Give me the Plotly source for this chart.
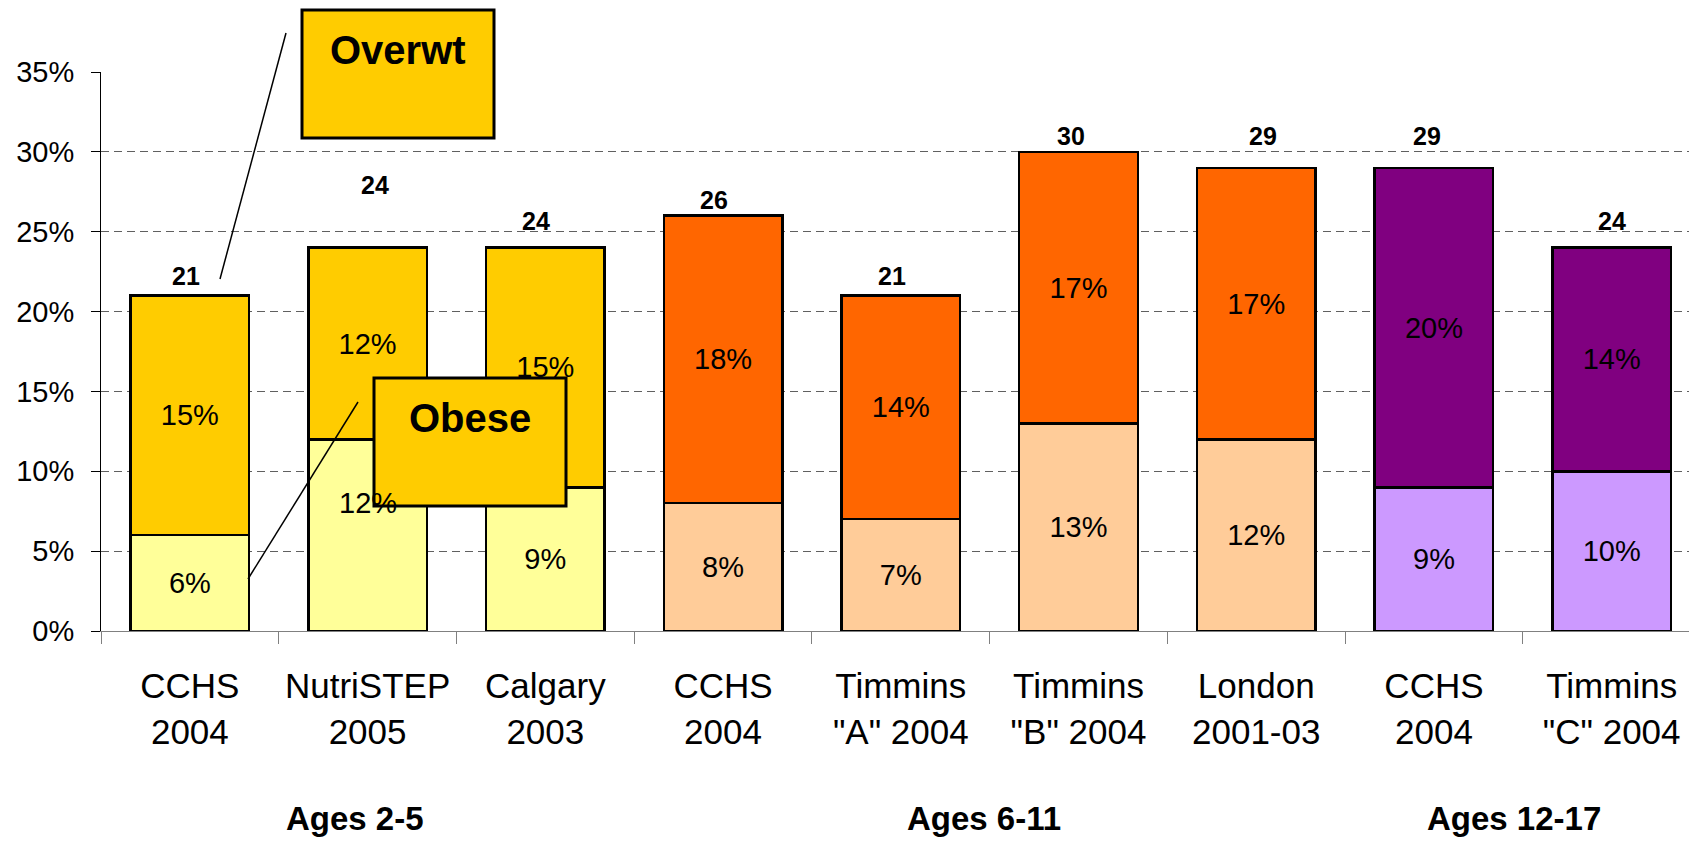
import plotly.graph_objects as go
import numpy as np

# ---- data ----
categories = ["CCHS<br>2004", "NutriSTEP<br>2005", "Calgary<br>2003", "CCHS<br>2004",
              "Timmins<br>\"A\" 2004", "Timmins<br>\"B\" 2004", "London<br>2001-03",
              "CCHS<br>2004", "Timmins<br>\"C\" 2004"]
groups = ["Ages 2-5", "Ages 6-11", "Ages 12-17"]
obese = [6, 12, 9, 8, 7, 13, 12, 9, 10]
overweight = [15, 12, 15, 18, 14, 17, 17, 20, 14]
totals = [21, 24, 24, 26, 21, 30, 29, 29, 24]

# ---- styling ----
obese_colors = ["#FFFF99"] * 3 + ["#FFCC99"] * 4 + ["#CC99FF"] * 2
over_colors = ["#FFCC00"] * 3 + ["#FF6600"] * 4 + ["#800080"] * 2
FONT = "Liberation Sans, Arial, sans-serif"

# label placement (layout only)
total_label_y = [22.2, 27.9, 25.7, 27.0, 22.2, 31.0, 31.0, 31.0, 25.7]
total_label_dx = [-0.02, 0.04, -0.05, -0.05, -0.05, -0.04, 0.04, -0.04, 0.0]
group_label_x = [0.93, 4.47, 7.45]

x = np.arange(len(categories))

OFF = 8  # page body margin
W, H = 1689, 833
ML, MR, MT, MB = 93, 0, 64, 210
PW, PH = W - ML - MR, H - MT - MB


def px(xp, yp):
    """page pixel -> paper coords"""
    return ((xp - OFF) - ML) / PW, (H - MB - (yp - OFF)) / PH


obese_text = [f"{v}%" for v in obese]
obese_text[1] = ""  # drawn separately (shifted up in original)

fig = go.Figure()
fig.add_trace(go.Bar(
    x=x, y=obese, marker=dict(color=obese_colors, line=dict(color="black", width=2.5)),
    text=obese_text, textposition="inside", insidetextanchor="middle", textangle=0,
    textfont=dict(family=FONT, size=29, color="black"), hoverinfo="skip", showlegend=False))
fig.add_trace(go.Bar(
    x=x, y=overweight, marker=dict(color=over_colors, line=dict(color="black", width=2.5)),
    text=[f"{v}%" for v in overweight], textposition="inside", insidetextanchor="middle",
    textangle=0, textfont=dict(family=FONT, size=29, color="black"),
    hoverinfo="skip", showlegend=False))

annotations = []
for i, t in enumerate(totals):
    annotations.append(dict(x=x[i] + total_label_dx[i], y=total_label_y[i], xref="x", yref="y",
                            text=f"<b>{t}</b>", showarrow=False, xanchor="center", yanchor="middle",
                            font=dict(family=FONT, size=25, color="black")))
# shifted obese label for NutriSTEP
annotations.append(dict(x=x[1], y=8, xref="x", yref="y", text=f"{obese[1]}%", showarrow=False,
                        xanchor="center", font=dict(family=FONT, size=29, color="black")))
for gx, g in zip(group_label_x, groups):
    annotations.append(dict(x=gx, y=px(0, 818)[1], xref="x", yref="paper", text=f"<b>{g}</b>",
                            showarrow=False, xanchor="center", yanchor="middle",
                            font=dict(family=FONT, size=33, color="black")))

shapes = []
# callout boxes and leader lines
for (x0, y0, x1, y1) in [(302, 10, 494, 138), (374, 378, 566, 506)]:
    a0, b0 = px(x0, y0)
    a1, b1 = px(x1, y1)
    shapes.append(dict(type="rect", xref="paper", yref="paper", x0=a0, y0=b1, x1=a1, y1=b0,
                       fillcolor="#FFCC00", line=dict(color="black", width=3), layer="above"))
for (x0, y0, x1, y1) in [(286, 33, 220, 279), (358, 402, 248, 579)]:
    a0, b0 = px(x0, y0)
    a1, b1 = px(x1, y1)
    shapes.append(dict(type="line", xref="paper", yref="paper", x0=a0, y0=b0, x1=a1, y1=b1,
                       line=dict(color="black", width=1.5), layer="above"))

for (cx, cy, label) in [(398, 50, "Overwt"), (470, 418, "Obese")]:
    a, b = px(cx, cy)
    annotations.append(dict(x=a, y=b, xref="paper", yref="paper", text=f"<b>{label}</b>",
                            showarrow=False, xanchor="center", yanchor="middle",
                            font=dict(family=FONT, size=40, color="black")))

fig.update_layout(
    width=W, height=H, margin=dict(l=ML, r=MR, t=MT, b=MB),
    barmode="stack", bargap=0.333,
    plot_bgcolor="white", paper_bgcolor="white",
    font=dict(family=FONT, color="black"),
    annotations=annotations, shapes=shapes,
    xaxis=dict(range=[-0.5, len(categories) - 0.52], tickvals=x, ticktext=categories,
               ticks="", showgrid=False, zeroline=False, showline=True, linecolor="#808080",
               linewidth=1, tickfont=dict(family=FONT, size=35, color="black"),
               ticklabelstandoff=24,
               minor=dict(tick0=-0.5, dtick=1, ticks="outside", ticklen=12,
                          tickcolor="#808080", tickwidth=1, showgrid=False)),
    yaxis=dict(range=[0, 35], dtick=5, ticksuffix="%", ticks="outside", ticklen=9,
               tickcolor="black", showline=True, linecolor="black", linewidth=1,
               showgrid=True, gridcolor="#606060", gridwidth=1, griddash="8px,5px",
               zeroline=False, tickfont=dict(family=FONT, size=29, color="black"),
               ticklabelstandoff=11),
)

fig.write_html("out.html")
